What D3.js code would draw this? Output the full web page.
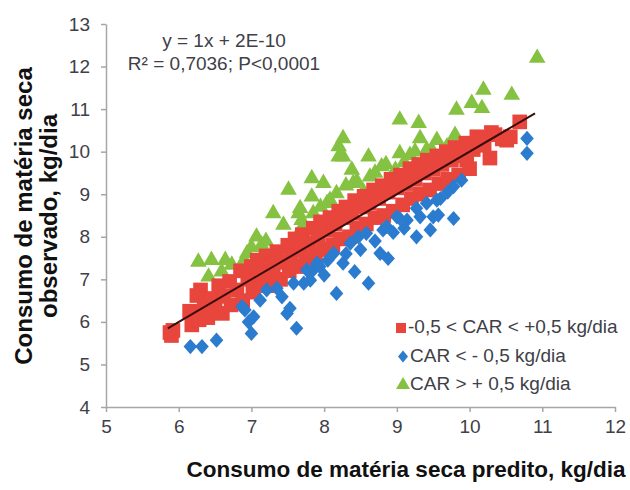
<!DOCTYPE html>
<html><head><meta charset="utf-8">
<script src="https://cdn.jsdelivr.net/npm/d3@7"></script>
<style>body{margin:0;background:#fff}svg{display:block}text{font-family:"Liberation Sans",Arial,sans-serif}</style>
</head><body>
<svg id="c" width="630" height="490"></svg>
<script>
const xTicks=[5,6,7,8,9,10,11,12];
const yTicks=[4,5,6,7,8,9,10,11,12,13];
const seriesNames=["-0,5 < CAR < +0,5 kg/dia","CAR < - 0,5 kg/dia","CAR > + 0,5 kg/dia"];
const equationText=["y = 1x + 2E-10","R² = 0,7036; P<0,0001"];
const xTitle="Consumo de matéria seca predito, kg/dia";
const yTitle=["Consumo de matéria seca","observado, kg/dia"];
const trendX=[5.85,10.9];
const trendSlope=1, trendIntercept=2e-10;

const redX=[5.88,5.9,5.92,6.15,6.18,6.22,6.25,6.28,6.3,6.35,6.4,6.4,6.45,6.5,6.55,6.6,6.62,6.7,6.72,6.8,6.85,6.88,6.95,7.0,7.02,7.08,7.1,7.15,7.2,7.22,7.28,7.3,7.35,7.4,7.42,7.5,7.52,7.55,7.6,7.62,7.68,7.7,7.75,7.8,7.85,7.88,7.92,7.95,8.0,8.05,8.08,8.12,8.15,8.2,8.22,8.28,8.3,8.35,8.38,8.42,8.45,8.5,8.55,8.58,8.62,8.68,8.7,8.75,8.8,8.82,8.88,8.92,8.95,9.0,9.05,9.08,9.12,9.18,9.2,9.25,9.3,9.32,9.38,9.42,9.45,9.5,9.55,9.58,9.62,9.68,9.7,9.75,9.8,9.85,9.88,9.95,9.96,10.0,10.05,10.1,10.14,10.2,10.28,10.3,10.35,10.45,10.51,10.56,10.69];
const redY=[5.75,5.68,5.8,6.25,5.93,6.2,6.62,6.05,6.75,6.4,6.1,6.45,6.55,6.3,6.85,6.2,6.6,6.95,6.4,6.75,7.2,6.5,7.0,7.3,6.7,7.45,6.95,7.2,7.55,6.85,7.35,7.1,7.65,7.0,7.4,7.8,7.2,7.55,7.95,7.3,7.7,8.05,7.45,7.85,8.2,7.55,8.0,8.35,7.7,8.15,8.45,7.8,8.3,8.6,7.95,8.45,8.7,8.0,8.55,8.85,8.2,8.7,8.95,8.3,8.8,9.1,8.45,8.9,9.2,8.5,9.05,9.35,8.6,9.15,9.45,8.75,9.25,9.6,8.9,9.35,9.7,9.0,9.5,9.8,9.1,9.6,9.9,9.25,9.7,10.0,9.35,9.8,10.1,9.45,9.9,10.2,9.8,9.6,10.05,10.35,10.3,10.15,9.85,10.45,10.4,10.3,10.27,10.35,10.7];

const blueX=[6.16,6.32,6.52,7.0,6.96,6.91,6.87,7.03,7.12,7.21,7.35,7.42,7.49,7.53,7.62,7.58,7.72,7.81,7.85,7.9,8.17,8.61,8.42,7.76,7.94,8.13,8.26,8.36,8.47,8.58,8.77,8.88,8.81,9.0,9.14,9.27,9.27,9.46,9.5,9.55,9.41,9.78,9.78,9.89,8.86,9.04,9.57,10.79,10.79,9.32,8.0,8.05,8.3,8.5,8.7,8.95,9.1,9.6,9.7];
const blueY=[5.42,5.42,5.57,5.73,6.0,6.28,6.36,6.12,6.51,6.75,6.79,6.59,6.2,6.32,5.85,6.91,6.91,6.98,7.22,7.38,6.67,6.91,7.18,7.22,7.3,7.61,7.38,7.85,8.0,8.08,7.61,7.49,8.16,8.47,8.39,8.0,8.67,8.16,8.47,8.86,8.79,8.43,9.18,9.33,8.24,8.43,8.51,10.31,9.96,8.47,7.1,7.45,7.6,7.7,7.9,8.1,8.2,8.9,9.05];

const greenX=[6.27,6.45,6.64,6.73,6.41,6.59,6.94,7.07,7.14,7.3,7.44,7.65,7.69,7.85,7.51,7.83,7.99,7.67,8.08,8.2,8.2,7.69,9.04,9.3,8.26,8.26,9.32,9.55,9.8,8.38,8.61,8.79,8.63,9.04,9.18,7.83,8.17,8.4,8.54,8.98,8.04,7.71,9.48,9.69,10.19,10.58,10.03,10.17,9.82,9.41,10.93,6.9,7.0,8.45,8.7,8.85,9.1,9.25,8.3,7.95,7.2,8.98];
const greenY=[7.41,7.45,7.45,7.34,7.06,7.18,7.61,8.0,7.81,8.55,8.28,8.55,8.2,8.55,9.1,9.37,9.26,8.67,8.86,10.12,9.88,8.39,10.75,10.67,10.31,9.88,10.31,10.27,10.39,9.57,9.88,9.65,9.41,9.96,9.92,8.94,9.02,9.26,9.06,9.45,8.79,8.16,10.04,10.12,11.45,11.33,11.14,11.02,10.98,10.04,12.2,7.45,7.75,9.3,9.5,9.7,9.75,10.0,9.2,8.7,7.9,9.57];

const colors={red:"#e8453c",blue:"#2b7bcf",green:"#86c242"};
const svg=d3.select("#c");
const x=d3.scaleLinear().domain([5,12]).range([106,615]);
const y=d3.scaleLinear().domain([4,13]).range([407,24]);
const zip=(a,b)=>a.map((v,i)=>[v,b[i]]);

// axes
const gx=svg.append("g").attr("transform","translate(0,407)")
 .call(d3.axisBottom(x).tickValues(xTicks).tickSizeInner(5).tickSizeOuter(0).tickPadding(5).tickFormat(d3.format("d")));
const gy=svg.append("g").attr("transform","translate(106,0)")
 .call(d3.axisLeft(y).tickValues(yTicks).tickSizeInner(5).tickSizeOuter(0).tickPadding(11).tickFormat(d3.format("d")));
[gx,gy].forEach(g=>{
 g.select(".domain").attr("stroke","#a6a6a6").attr("stroke-width",1.5);
 g.selectAll(".tick line").attr("stroke","#a6a6a6").attr("stroke-width",1.5);
 g.selectAll(".tick text").attr("fill","#404048").style("font-size","19px").style("font-family","'Liberation Sans',Arial,sans-serif");
});
gx.selectAll(".tick text").attr("dy","0.85em");

const sq=d3.symbol().type(d3.symbolSquare).size(215);
const diamondPath=(w,h)=>`M0,${-h}L${w},0L0,${h}L${-w},0Z`;
const tr=d3.symbol().type(d3.symbolTriangle).size(120);

// green
svg.append("g").selectAll("path").data(zip(greenX,greenY)).join("path")
 .attr("d",tr).attr("transform",d=>`translate(${x(d[0])},${y(d[1])})`).attr("fill",colors.green);
// red
svg.append("g").selectAll("path").data(zip(redX,redY)).join("path")
 .attr("d",sq).attr("transform",d=>`translate(${x(d[0])},${y(d[1])})`).attr("fill",colors.red);
// blue
svg.append("g").selectAll("path").data(zip(blueX,blueY)).join("path")
 .attr("d",diamondPath(6.8,7.6)).attr("transform",d=>`translate(${x(d[0])},${y(d[1])})`).attr("fill",colors.blue);

// trend line
svg.append("line").attr("x1",x(trendX[0])).attr("y1",y(trendSlope*trendX[0]+trendIntercept))
 .attr("x2",x(trendX[1])).attr("y2",y(trendSlope*trendX[1]+trendIntercept))
 .attr("stroke","#3a0c0c").attr("stroke-width",2);

// equation
svg.append("g").selectAll("text").data(equationText).join("text")
 .attr("x",224).attr("y",(d,i)=>42+i*23).attr("text-anchor","middle").attr("dominant-baseline","middle")
 .attr("fill","#404048").style("font-size","19px").text(d=>d);

// legend
const lg=svg.append("g");
const legendCols=[colors.red,colors.blue,colors.green];
const legendPaths=[d3.symbol().type(d3.symbolSquare).size(100)(),diamondPath(5,6),d3.symbol().type(d3.symbolTriangle).size(85)()];
seriesNames.forEach((n,i)=>{
 const yy=328+i*28.5;
 lg.append("path").attr("d",legendPaths[i]).attr("transform",`translate(${401+(i?2:0)},${yy})`).attr("fill",legendCols[i]);
 lg.append("text").attr("x",i?410:408).attr("y",yy).attr("dominant-baseline","middle")
  .attr("fill","#404048").style("font-size","19px").text(n);
});

// titles
svg.append("text").attr("x",406).attr("y",471).attr("text-anchor","middle").attr("dominant-baseline","middle")
 .attr("fill","#111").style("font-size","22.5px").style("font-weight","bold").text(xTitle);
yTitle.forEach((t,i)=>{
 svg.append("text").attr("transform",`translate(${26+i*25},216) rotate(-90)`).attr("text-anchor","middle").attr("dominant-baseline","middle")
  .attr("fill","#111").style("font-size","24px").style("font-weight","bold").text(t);
});
</script>
</body></html>
